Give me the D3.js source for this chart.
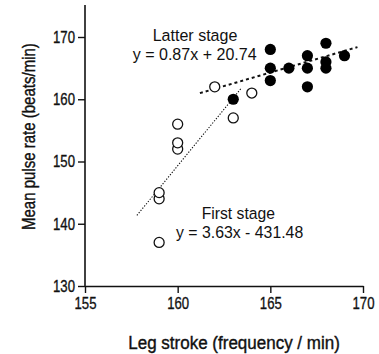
<!DOCTYPE html>
<html>
<head>
<meta charset="utf-8">
<script src="https://cdn.jsdelivr.net/npm/d3@7"></script>
<style>
  html, body { margin: 0; padding: 0; background: #fff; }
  svg { display: block; }
  text { font-family: "Liberation Sans Narrow", "Arial Narrow", "Liberation Sans", Arial, sans-serif; fill: #111; }
</style>
</head>
<body>
<svg id="chart" width="379" height="354"></svg>
<script>
// ---- data ----
const firstX = [159, 159, 159, 160, 160, 160, 162, 163, 164];
const firstY = [137, 144, 145, 152, 153, 156, 162, 157, 161];
const latterX = [163, 165, 165, 165, 166, 167, 167, 167, 168, 168, 168, 169];
const latterY = [160, 168, 165, 163, 165, 167, 165, 162, 169, 166, 165, 167];
const firstFit = { slope: 3.63, intercept: -431.48, from: 157.8, to: 163.45 };
const latterFit = { slope: 0.87, intercept: 20.74, from: 161.2, to: 169.7 };
const xTicks = [155, 160, 165, 170];
const yTicks = [130, 140, 150, 160, 170];

const svg = d3.select("#chart");
const x = d3.scaleLinear().domain([155, 170]).range([85, 363]);
const y = d3.scaleLinear().domain([130, 170]).range([286, 37]);

// horizontally condense a text (narrow typeface look) to a target width
function condense(sel, tx, ty, targetW, rotate) {
  sel.attr("x", 0).attr("y", 0);
  const w = sel.node().getComputedTextLength();
  const s = targetW / w;
  sel.attr("transform", `translate(${tx},${ty})${rotate ? " rotate(" + rotate + ")" : ""} scale(${s},1)`);
}

// axes
const xAxis = svg.append("g").attr("transform", "translate(0,286)")
  .call(d3.axisBottom(x).tickValues(xTicks).tickSize(7).tickPadding(4).tickSizeOuter(0));
const yAxis = svg.append("g").attr("transform", "translate(85,0)")
  .call(d3.axisLeft(y).tickValues(yTicks).tickSize(7).tickPadding(3).tickSizeOuter(0));
[xAxis, yAxis].forEach(g => {
  g.select(".domain").attr("stroke", "#111").attr("stroke-width", 1.6);
  g.selectAll(".tick line").attr("stroke", "#111").attr("stroke-width", 1.4);
  g.selectAll(".tick text").attr("font-size", 17).attr("fill", "#111")
    .attr("stroke", "#111").attr("stroke-width", 0.35)
    .style("font-family", '"Liberation Sans Narrow", "Arial Narrow", "Liberation Sans", Arial, sans-serif');
});
xAxis.selectAll(".tick text").each(function () { condense(d3.select(this), 0, 11, 22); });
yAxis.selectAll(".tick text").each(function () { condense(d3.select(this), -10, 0, 22); });

// y axis extends to the top of the frame
yAxis.select(".domain").remove();
svg.append("line").attr("x1", 85).attr("x2", 85).attr("y1", 5).attr("y2", 286)
  .attr("stroke", "#111").attr("stroke-width", 1.6);

// regression lines
function fitLine(f, dash, width) {
  svg.append("line")
    .attr("x1", x(f.from)).attr("y1", y(f.slope * f.from + f.intercept))
    .attr("x2", x(f.to)).attr("y2", y(f.slope * f.to + f.intercept))
    .attr("stroke", "#111").attr("stroke-width", width).attr("stroke-dasharray", dash);
}
fitLine(firstFit, "1.3,1.6", 1.1);
fitLine(latterFit, "3,3", 2);

// points
svg.append("g").selectAll("circle").data(firstX.map((d, i) => [d, firstY[i]]))
  .join("circle").attr("cx", d => x(d[0])).attr("cy", d => y(d[1])).attr("r", 5)
  .attr("fill", "#fff").attr("stroke", "#111").attr("stroke-width", 1.3);
svg.append("g").selectAll("circle").data(latterX.map((d, i) => [d, latterY[i]]))
  .join("circle").attr("cx", d => x(d[0])).attr("cy", d => y(d[1])).attr("r", 5.6)
  .attr("fill", "#000");

// annotations
function label(txt, xPos, yPos, size, len, bold, rotate) {
  const t = svg.append("text").attr("font-size", size).text(txt);
  if (bold) t.attr("stroke", "#111").attr("stroke-width", 0.4);
  condense(t, xPos, yPos, len, rotate);
  return t;
}
label("Latter stage", 152.7, 41, 17, 84.7);
label("y = 0.87x + 20.74", 132.7, 60, 17, 124);
label("First stage", 201.7, 219, 17, 73.3);
label("y = 3.63x - 431.48", 176, 238, 17, 127.3);

// axis titles
label("Leg stroke (frequency / min)", 128.3, 349, 19, 211.7, true);
label("Mean pulse rate (beats/min)", 35, 230, 19, 187, true, -90);
</script>
</body>
</html>
